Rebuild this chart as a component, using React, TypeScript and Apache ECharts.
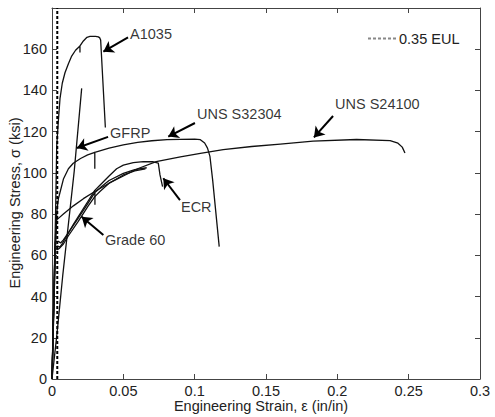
import React, { useEffect, useRef } from "react";
import * as echarts from "echarts";

const FONT = "'Liberation Sans', Arial, Helvetica, sans-serif";

// Strain ticks (in/in) and stress ticks (ksi)
const strainTicks = [0, 0.05, 0.1, 0.15, 0.2, 0.25, 0.3];
const stressTicks = [0, 20, 40, 60, 80, 100, 120, 140, 160, 180];

// Curves: [strain, stress]
const a1035: number[][] = [
  [0, 0], [0.0025, 80], [0.0033, 113], [0.0044, 124.7], [0.0056, 136], [0.0072, 143.5],
  [0.0091, 148.6], [0.0115, 153], [0.0138, 156.7], [0.0165, 159.5], [0.0196, 161.6],
  [0.0196, 158.4], [0.0196, 161.6], [0.022, 164], [0.0245, 165.8], [0.0266, 166.2],
  [0.0305, 166.2], [0.0325, 166], [0.0335, 165.5], [0.0341, 164.5], [0.0374, 122],
];
const gfrp: number[][] = [
  [0, 0], [0.0035, 22], [0.0075, 50], [0.0156, 101], [0.0208, 141],
];
const s32304: number[][] = [
  [0, 0], [0.0015, 40], [0.0025, 70], [0.0035, 82], [0.0045, 87.5], [0.0056, 90.5],
  [0.008, 97], [0.0115, 102], [0.0149, 104.7], [0.02, 107], [0.025, 108.7], [0.03, 110],
  [0.03, 102], [0.03, 110], [0.04, 112], [0.05, 113.6], [0.06, 114.8], [0.07, 115.6],
  [0.0806, 116.1], [0.09, 116.3], [0.1, 116.4], [0.104, 116.1], [0.107, 114.5],
  [0.109, 112], [0.1107, 108], [0.1126, 96.6], [0.1172, 64.2],
];
const s24100: number[][] = [
  [0, 0], [0.0015, 40], [0.0028, 70], [0.0033, 77.2], [0.008, 80], [0.015, 84],
  [0.022, 87.5], [0.03, 91], [0.04, 95], [0.05, 98.5], [0.06, 102], [0.073, 105.5],
  [0.09, 107.8], [0.104, 109.5], [0.12, 111.3], [0.14, 112.8], [0.16, 114], [0.183, 115.4],
  [0.2135, 116.2], [0.237, 115.7], [0.2425, 114.4], [0.2455, 112.5], [0.2474, 109.6],
];
const ecr: number[][] = [
  [0, 0], [0.0022, 64], [0.004, 64.5], [0.0055, 64], [0.007, 65.5], [0.01, 69],
  [0.015, 75], [0.02, 80.5], [0.025, 86], [0.03, 91.5], [0.0336, 94], [0.04, 98.5],
  [0.0453, 102], [0.05, 103.8], [0.057, 105], [0.064, 105.5], [0.071, 105.4],
  [0.0745, 104.7], [0.0757, 99], [0.0775, 93.3],
];
const grade60a: number[][] = [
  [0, 0], [0.0022, 66.6], [0.0045, 66.8], [0.006, 66], [0.008, 67.5], [0.0115, 71],
  [0.0184, 78], [0.0254, 85.5], [0.0301, 90.5], [0.0301, 84.5], [0.0301, 90.5],
  [0.035, 93.5], [0.04, 96.3], [0.05, 99.8], [0.058, 101.6], [0.0664, 102.5],
];
const grade60b: number[][] = [
  [0, 0], [0.0021, 63.4], [0.004, 62.8], [0.0055, 63.6], [0.008, 65.5], [0.0115, 69.5],
  [0.0184, 76.5], [0.0254, 84], [0.03, 88.5], [0.0336, 91], [0.04, 95], [0.05, 99],
  [0.058, 101], [0.0655, 102],
];
const eulLine: number[][] = [[0.0037, 0], [0.0037, 180]];

// Annotation labels
const labelNames = ["A1035", "GFRP", "UNS S32304", "UNS S24100", "ECR", "Grade 60"];
const labelPos: number[][] = [
  [0.0547, 167.4], [0.0407, 119.2], [0.1016, 128.5], [0.1984, 133.5], [0.0904, 83.5], [0.0371, 67.4],
];
// Arrows: [[tailStrain, tailStress], [tipStrain, tipStress]]
const arrows: number[][][] = [
  [[0.0533, 165.8], [0.036, 158.8]],
  [[0.0393, 117.5], [0.0175, 112.1]],
  [[0.1002, 124.2], [0.0815, 117.6]],
  [[0.197, 127.6], [0.1836, 117.2]],
  [[0.0897, 86.8], [0.078, 97.4]],
  [[0.036, 69.9], [0.0208, 78.7]],
];

const curveStyle = { color: "#111", width: 1.3 };

function curve(name: string, data: number[][]) {
  return {
    name,
    type: "line",
    data,
    showSymbol: false,
    symbol: "none",
    lineStyle: curveStyle,
    silent: true,
    z: 3,
  };
}

export default function App() {
  const ref = useRef<HTMLDivElement>(null);
  useEffect(() => {
    if (!ref.current) return;
    const chart = echarts.init(ref.current, null, { renderer: "svg" });
    const axisCommon = {
      type: "value",
      axisLine: { show: true, onZero: false, lineStyle: { color: "#444", width: 1 } },
      axisTick: { show: true, inside: true, length: 5, lineStyle: { color: "#444" } },
      splitLine: { show: false },
    };
    chart.setOption({
      animation: false,
      backgroundColor: "#fff",
      grid: { left: 52, right: 15, top: 8, bottom: 38, containLabel: false },
      xAxis: [
        {
          ...axisCommon,
          min: strainTicks[0],
          max: strainTicks[strainTicks.length - 1],
          interval: 0.05,
          position: "bottom",
          axisLabel: {
            color: "#222",
            fontSize: 14.5,
            fontFamily: FONT,
            margin: 4,
            formatter: (v: number) => String(parseFloat(v.toFixed(2))),
          },
        },
        {
          ...axisCommon,
          min: strainTicks[0],
          max: strainTicks[strainTicks.length - 1],
          interval: 0.05,
          position: "top",
          axisLabel: { show: false },
        },
      ],
      yAxis: [
        {
          ...axisCommon,
          min: stressTicks[0],
          max: stressTicks[stressTicks.length - 1],
          interval: 20,
          position: "left",
          axisLabel: {
            color: "#222",
            fontSize: 14.5,
            fontFamily: FONT,
            margin: 5,
            formatter: (v: number) => (v === 180 ? "" : String(v)),
          },
        },
        {
          ...axisCommon,
          min: stressTicks[0],
          max: stressTicks[stressTicks.length - 1],
          interval: 20,
          position: "right",
          axisLabel: { show: false },
        },
      ],
      graphic: [
        {
          type: "text",
          x: 261,
          y: 406,
          style: {
            text: "Engineering Strain, ε (in/in)",
            font: `14.5px ${FONT}`,
            fill: "#222",
            align: "center",
            verticalAlign: "middle",
          },
        },
        {
          type: "text",
          x: 15,
          y: 203,
          rotation: Math.PI / 2,
          style: {
            text: "Engineering Stress, σ (ksi)",
            font: `14.5px ${FONT}`,
            fill: "#222",
            align: "center",
            verticalAlign: "middle",
          },
        },
        // legend
        {
          type: "line",
          shape: { x1: 368, y1: 38.5, x2: 396, y2: 38.5 },
          style: { stroke: "#888", lineWidth: 2, lineDash: [3, 2] },
        },
        {
          type: "text",
          x: 399,
          y: 38.5,
          style: {
            text: "0.35 EUL",
            font: `14.5px ${FONT}`,
            fill: "#222",
            align: "left",
            verticalAlign: "middle",
          },
        },
      ],
      series: [
        curve("A1035", a1035),
        curve("GFRP", gfrp),
        curve("UNS S32304", s32304),
        curve("UNS S24100", s24100),
        curve("ECR", ecr),
        curve("Grade 60 a", grade60a),
        curve("Grade 60 b", grade60b),
        {
          name: "0.35 EUL",
          type: "line",
          data: eulLine,
          showSymbol: false,
          symbol: "none",
          lineStyle: { color: "#000", width: 2, type: [3, 2] },
          silent: true,
          z: 4,
        },
        {
          name: "arrows",
          type: "lines",
          coordinateSystem: "cartesian2d",
          polyline: false,
          symbol: ["none", "arrow"],
          symbolSize: 10,
          lineStyle: { color: "#000", width: 2, opacity: 1, curveness: 0 },
          data: arrows.map((a) => ({ coords: a })),
          silent: true,
          z: 5,
        },
        {
          name: "labels",
          type: "scatter",
          symbolSize: 0,
          data: labelPos.map((p, i) => ({ value: p, name: labelNames[i] })),
          label: {
            show: true,
            position: "right",
            distance: 0,
            formatter: (p: any) => p.name,
            fontSize: 14.5,
            fontFamily: FONT,
            color: "#000",
          },
          silent: true,
          z: 6,
        },
      ],
    });
    return () => chart.dispose();
  }, []);
  return (
    <div
      ref={ref}
      style={{ position: "fixed", left: 0, top: 0, width: 495, height: 417 }}
    />
  );
}
